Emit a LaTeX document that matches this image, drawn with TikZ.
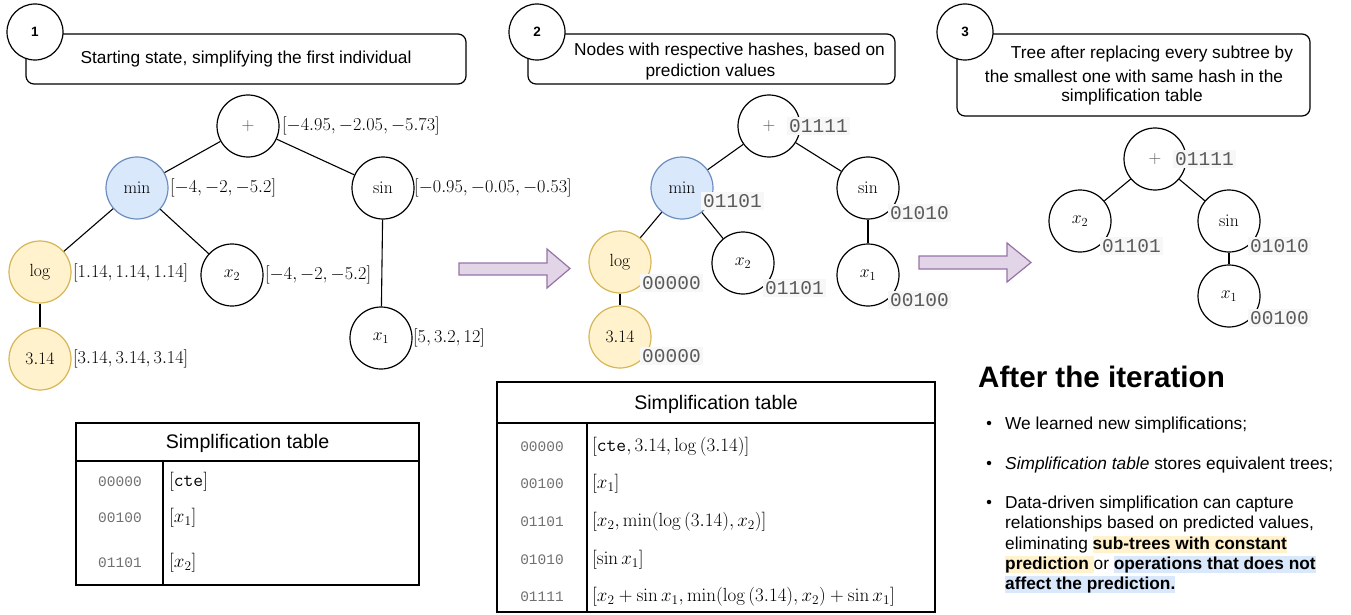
\RequirePackage{fix-cm}
\documentclass[tikz,border=0pt]{standalone}
\usepackage[no-math]{fontspec}
\newfontfamily\arialf{Liberation Sans}
\newfontfamily\monof{Liberation Mono}
\definecolor{bluF}{HTML}{DAE8FC}
\definecolor{bluD}{HTML}{6C8EBF}
\definecolor{yelF}{HTML}{FFF2CC}
\definecolor{yelD}{HTML}{D6B656}
\definecolor{purF}{HTML}{E1D5E7}
\definecolor{purD}{HTML}{9673A6}
\definecolor{hashfg}{HTML}{5A5A5A}
\definecolor{hashbg}{HTML}{F7F7F7}
\definecolor{tblhash}{HTML}{707070}
\definecolor{plusc}{HTML}{555555}
\newcommand\fsz[2]{\fontsize{#1}{#2}\selectfont}
\newcommand\hlb[2]{{\setlength{\fboxsep}{0pt}\colorbox{#1}{\vphantom{Apg}#2}}}
\tikzset{
 tn/.style={circle,draw,line width=1.2pt,minimum size=62pt,inner sep=0pt,font=\fsz{17.6}{20}},
 tblu/.style={tn,fill=bluF,draw=bluD},
 tyel/.style={tn,fill=yelF,draw=yelD},
 val/.style={anchor=west,inner sep=0pt,font=\fsz{18.2}{20}},
 hash/.style={anchor=west,inner sep=2pt,fill=hashbg,text=hashfg,font=\monof\fsz{19.5}{22}},
 stepc/.style={circle,draw,fill=white,line width=1.2pt,minimum size=56pt,inner sep=0pt,font=\arialf\bfseries\fsz{13.5}{15}},
 capbox/.style={draw,rounded corners=8pt,line width=1.2pt,inner sep=0pt},
 captxt/.style={font=\arialf\fsz{17.3}{21},inner sep=0pt},
 edge/.style={line width=1.1pt},
 bigarr/.style={fill=purF,draw=purD,line width=1.2pt},
 tbl/.style={line width=1.2pt},
 thead/.style={font=\arialf\fsz{19.6}{22},inner sep=0pt},
 thash/.style={font=\monof\fsz{14.5}{16},text=tblhash,inner sep=0pt},
 tcell/.style={anchor=west,inner sep=0pt,font=\fsz{19}{21}},
 btxt/.style={anchor=base west,inner sep=0pt,font=\arialf\fsz{17.3}{20.3}},
 bdot/.style={circle,fill=black,inner sep=0pt,minimum size=4.5pt},
}
\begin{document}
\begin{tikzpicture}[x=1pt,y=-1pt]
\useasboundingbox (0,0) rectangle (1351,615);
% ---------- panel 1 ----------
\node[capbox,minimum width=440pt,minimum height=50pt,captxt] (cap1) at (246,59) {Starting state, simplifying the first individual};
\node[stepc] (st1) at (35,32) {1};
\node[tn] (p1) at (248,126) {$\color{plusc}+$};
\node[tblu] (m1) at (137,188) {$\min$};
\node[tn] (sn1) at (383,188) {$\sin$};
\node[tyel] (l1) at (40,272) {$\log$};
\node[tyel] (c1) at (40,359) {$3.14$};
\node[tn] (x21) at (232,275) {$x_2$};
\node[tn] (x11) at (381,338) {$x_1$};
\draw[edge] (p1) -- (m1);
\draw[edge] (p1) -- (sn1);
\draw[edge] (m1) -- (l1);
\draw[edge] (m1) -- (x21);
\draw[edge] (l1) -- (c1);
\draw[edge] (sn1) -- (x11);
\node[val] (v1) at (282,126) {$[-4.95, -2.05, -5.73]$};
\node[val] (v2) at (170,188) {$[-4, -2, -5.2]$};
\node[val] (v3) at (414,188) {$[-0.95, -0.05, -0.53]$};
\node[val] (v4) at (73,273) {$[1.14, 1.14, 1.14]$};
\node[val] (v5) at (265,275) {$[-4, -2, -5.2]$};
\node[val] (v6) at (413,338) {$[5, 3.2, 12]$};
\node[val] (v7) at (73,359) {$[3.14, 3.14, 3.14]$};
% table 1
\draw[tbl] (76,423) rectangle (419,585);
\draw[tbl] (76,461) -- (419,461);
\draw[tbl] (163,461) -- (163,585);
\node[thead] (t1h) at (247.5,443) {Simplification table};
\node[thash] (t1a) at (120,482) {00000};
\node[thash] (t1b) at (120,518) {00100};
\node[thash] (t1c) at (120,563) {01101};
\node[tcell] (t1d) at (169,482) {$[\mathtt{cte}]$};
\node[tcell] (t1e) at (169,518) {$[x_1]$};
\node[tcell] (t1f) at (169,563) {$[x_2]$};
% arrow 1
\draw[bigarr] (459,263) -- (547,263) -- (547,249) -- (570,268.5) -- (547,288) -- (547,275) -- (459,275) -- cycle;
% ---------- panel 2 ----------
\node[capbox,minimum width=367pt,minimum height=50pt] (cap2) at (711.5,59) {};
\node[captxt] (cap2a) at (729.5,51) {Nodes with respective hashes, based on};
\node[captxt] (cap2b) at (710.5,72) {prediction values};
\node[stepc] (st2) at (537,32) {2};
\node[tn] (p2) at (769,126) {$\color{plusc}+$};
\node[tblu] (m2) at (682,188) {$\min$};
\node[tn] (sn2) at (868,188) {$\sin$};
\node[tyel] (l2) at (620,262) {$\log$};
\node[tyel] (c2) at (620,337) {$3.14$};
\node[tn] (x22) at (743,263) {$x_2$};
\node[tn] (x12) at (868,275) {$x_1$};
\draw[edge] (p2) -- (m2);
\draw[edge] (p2) -- (sn2);
\draw[edge] (m2) -- (l2);
\draw[edge] (m2) -- (x22);
\draw[edge] (l2) -- (c2);
\draw[edge] (sn2) -- (x12);
\node[hash] (h1) at (787,126) {01111};
\node[hash] (h2) at (701,201) {01101};
\node[hash] (h3) at (888,213) {01010};
\node[hash] (h4) at (640,283) {00000};
\node[hash] (h5) at (640,356) {00000};
\node[hash] (h6) at (763,288) {01101};
\node[hash] (h7) at (888,300) {00100};
% table 2
\draw[tbl] (497,382) rectangle (935,612);
\draw[tbl] (497,423) -- (935,423);
\draw[tbl] (587,423) -- (587,612);
\node[thead] (t2h) at (716,404) {Simplification table};
\node[thash] (t2a) at (542,447) {00000};
\node[thash] (t2b) at (542,484) {00100};
\node[thash] (t2c) at (542,522) {01101};
\node[thash] (t2d) at (542,560) {01010};
\node[thash] (t2e) at (542,597) {01111};
\node[tcell] (t2f) at (592,447) {$[\mathtt{cte}, 3.14, \log{(3.14)}]$};
\node[tcell] (t2g) at (592,484) {$[x_1]$};
\node[tcell] (t2h2) at (592,522) {$[x_2, \min(\log{(3.14)}, x_2)]$};
\node[tcell] (t2i) at (592,560) {$[\sin x_1]$};
\node[tcell] (t2j) at (592,597) {$[x_2+\sin x_1, \min(\log{(3.14)}, x_2)+\sin x_1]$};
% arrow 2
\draw[bigarr] (919,256) -- (1007,256) -- (1007,243) -- (1031,262.5) -- (1007,282) -- (1007,269) -- (919,269) -- cycle;
% ---------- panel 3 ----------
\node[capbox,minimum width=353pt,minimum height=82pt] (cap3) at (1133.5,75) {};
\node[captxt] (cap3a) at (1152,54) {Tree after replacing every subtree by};
\node[captxt] (cap3b) at (1134,76) {the smallest one with same hash in the};
\node[captxt] (cap3c) at (1132,97) {simplification table};
\node[stepc] (st3) at (965,32) {3};
\node[tn] (p3) at (1155,159) {$\color{plusc}+$};
\node[tn] (x23) at (1080,221) {$x_2$};
\node[tn] (sn3) at (1229,221) {$\sin$};
\node[tn] (x13) at (1229,296) {$x_1$};
\draw[edge] (p3) -- (x23);
\draw[edge] (p3) -- (sn3);
\draw[edge] (sn3) -- (x13);
\node[hash] (h8) at (1173,159) {01111};
\node[hash] (h9) at (1100,246) {01101};
\node[hash] (h10) at (1248,246) {01010};
\node[hash] (h11) at (1248,318) {00100};
% ---------- text ----------
\node[anchor=west,inner sep=0pt,font=\arialf\bfseries\fsz{29.6}{34}] (title) at (978,377) {After the iteration};
\node[bdot] (d1) at (989,423) {};
\node[btxt] (b1) at (1005,429) {We learned new simplifications;};
\node[bdot] (d2) at (989,463) {};
\node[btxt] (b2) at (1005,469) {{\itshape Simplification table} stores equivalent trees;};
\node[bdot] (d3) at (989,502) {};
\node[btxt] (b3a) at (1005,508) {Data-driven simplification can capture};
\node[btxt] (b3b) at (1005,528) {relationships based on predicted values,};
\node[btxt] (b3c) at (1005,549) {eliminating \hlb{yelF}{\bfseries sub-trees with constant}};
\node[btxt] (b3d) at (1005,569) {\hlb{yelF}{\bfseries prediction\ }or \hlb{bluF}{\bfseries operations that does not}};
\node[btxt] (b3e) at (1005,589) {\hlb{bluF}{\bfseries affect the prediction.}};
\end{tikzpicture}
\end{document}
